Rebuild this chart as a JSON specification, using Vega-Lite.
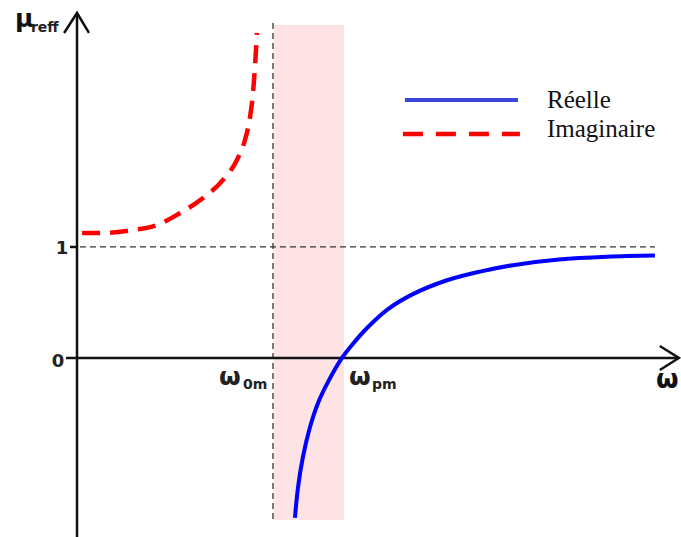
{
  "$schema": "https://vega.github.io/schema/vega-lite/v6.json",
  "width": 681,
  "height": 537,
  "padding": 0,
  "autosize": {"type": "none"},
  "background": "white",
  "config": {"view": {"stroke": null}},
  "datasets": {
    "band": [{"x": 1.005, "x2": 1.362, "y": 3.0, "y2": -1.46}],
    "guides": [
      {"x": 1.0, "x2": 1.0, "y": 3.018, "y2": -1.477},
      {"x": 0.015, "x2": 2.949, "y": 1.0, "y2": 1.0}
    ],
    "axes": [
      {"x": 0, "x2": 0, "y": -1.613, "y2": 3.108},
      {"x": -0.056, "x2": 3.071, "y": 0, "y2": 0},
      {"x": -0.036, "x2": 0, "y": 1, "y2": 1}
    ],
    "arrows": [
      {"a": "y", "x": -0.066, "y": 2.928, "o": 1},
      {"a": "y", "x": 0, "y": 3.108, "o": 2},
      {"a": "y", "x": 0.061, "y": 2.928, "o": 3},
      {"a": "x", "x": 2.974, "y": 0.108, "o": 1},
      {"a": "x", "x": 3.071, "y": 0, "o": 2},
      {"a": "x", "x": 2.974, "y": -0.108, "o": 3}
    ],
    "imag": [
      {"w": 0.026, "mu": 1.126},
      {"w": 0.133, "mu": 1.126},
      {"w": 0.286, "mu": 1.153},
      {"w": 0.408, "mu": 1.198},
      {"w": 0.526, "mu": 1.306},
      {"w": 0.643, "mu": 1.441},
      {"w": 0.745, "mu": 1.604},
      {"w": 0.816, "mu": 1.784},
      {"w": 0.857, "mu": 1.964},
      {"w": 0.883, "mu": 2.171},
      {"w": 0.898, "mu": 2.387},
      {"w": 0.908, "mu": 2.622},
      {"w": 0.918, "mu": 2.928}
    ],
    "real": [
      {"w": 1.112, "mu": -1.441},
      {"w": 1.128, "mu": -1.162},
      {"w": 1.153, "mu": -0.89},
      {"w": 1.189, "mu": -0.622},
      {"w": 1.23, "mu": -0.405},
      {"w": 1.281, "mu": -0.216},
      {"w": 1.352, "mu": 0},
      {"w": 1.403, "mu": 0.117},
      {"w": 1.485, "mu": 0.279},
      {"w": 1.582, "mu": 0.434},
      {"w": 1.714, "mu": 0.575},
      {"w": 1.888, "mu": 0.7},
      {"w": 2.056, "mu": 0.778},
      {"w": 2.224, "mu": 0.836},
      {"w": 2.459, "mu": 0.887},
      {"w": 2.704, "mu": 0.912},
      {"w": 2.949, "mu": 0.922}
    ],
    "legReal": [{"x": 1.673, "x2": 2.25, "y": 2.324, "y2": 2.324}],
    "legImag": [{"x": 1.663, "x2": 2.26, "y": 2.018, "y2": 2.018}],
    "legText": [
      {"x": 2.398, "y": 2.252, "t": "Réelle"},
      {"x": 2.398, "y": 1.991, "t": "Imaginaire"}
    ],
    "bigMu": [{"x": -0.316, "y": 2.982, "t": "μ"}],
    "subs": [
      {"x": -0.235, "y": 2.937, "t": "reff"},
      {"x": 0.847, "y": -0.279, "t": "0m"},
      {"x": 1.505, "y": -0.279, "t": "pm"}
    ],
    "ticks": [
      {"x": -0.097, "y": -0.081, "t": "0"},
      {"x": -0.077, "y": 0.937, "t": "1"}
    ],
    "omegas": [
      {"x": 0.724, "y": -0.243, "t": "ω"},
      {"x": 1.388, "y": -0.243, "t": "ω"}
    ],
    "axisOmega": [{"x": 2.954, "y": -0.27, "t": "ω"}]
  },
  "layer": [
    {
      "data": {"name": "band"},
      "mark": {"type": "rect", "color": "#fde3e3"},
      "encoding": {
        "x": {"field": "x", "type": "quantitative", "scale": {"domain": [-0.393, 3.082], "nice": false, "zero": false}, "axis": null},
        "x2": {"field": "x2"},
        "y": {"field": "y", "type": "quantitative", "scale": {"domain": [-1.613, 3.225], "nice": false, "zero": false}, "axis": null},
        "y2": {"field": "y2"}
      }
    },
    {
      "data": {"name": "guides"},
      "mark": {"type": "rule", "color": "#333333", "strokeWidth": 1.3, "strokeDash": [6, 4]},
      "encoding": {
        "x": {"field": "x", "type": "quantitative"},
        "x2": {"field": "x2"},
        "y": {"field": "y", "type": "quantitative"},
        "y2": {"field": "y2"}
      }
    },
    {
      "data": {"name": "axes"},
      "mark": {"type": "rule", "color": "#111111", "strokeWidth": 2.5},
      "encoding": {
        "x": {"field": "x", "type": "quantitative"},
        "x2": {"field": "x2"},
        "y": {"field": "y", "type": "quantitative"},
        "y2": {"field": "y2"}
      }
    },
    {
      "data": {"name": "arrows"},
      "mark": {"type": "line", "color": "#111111", "strokeWidth": 2.5, "strokeJoin": "miter"},
      "encoding": {
        "x": {"field": "x", "type": "quantitative"},
        "y": {"field": "y", "type": "quantitative"},
        "detail": {"field": "a"},
        "order": {"field": "o"}
      }
    },
    {
      "data": {"name": "imag"},
      "mark": {"type": "line", "color": "#ff0000", "strokeWidth": 4.5, "strokeDash": [18, 10], "interpolate": "monotone"},
      "encoding": {
        "x": {"field": "w", "type": "quantitative"},
        "y": {"field": "mu", "type": "quantitative"}
      }
    },
    {
      "data": {"name": "real"},
      "mark": {"type": "line", "color": "#0000ff", "strokeWidth": 4, "interpolate": "catmull-rom"},
      "encoding": {
        "x": {"field": "w", "type": "quantitative"},
        "y": {"field": "mu", "type": "quantitative"}
      }
    },
    {
      "data": {"name": "legReal"},
      "mark": {"type": "rule", "color": "#3b46d8", "strokeWidth": 4},
      "encoding": {
        "x": {"field": "x", "type": "quantitative"},
        "x2": {"field": "x2"},
        "y": {"field": "y", "type": "quantitative"},
        "y2": {"field": "y2"}
      }
    },
    {
      "data": {"name": "legImag"},
      "mark": {"type": "rule", "color": "#ff0000", "strokeWidth": 4.5, "strokeDash": [20, 13]},
      "encoding": {
        "x": {"field": "x", "type": "quantitative"},
        "x2": {"field": "x2"},
        "y": {"field": "y", "type": "quantitative"},
        "y2": {"field": "y2"}
      }
    },
    {
      "data": {"name": "legText"},
      "mark": {"type": "text", "font": "Liberation Serif", "fontSize": 25, "align": "left", "baseline": "alphabetic", "color": "#111111"},
      "encoding": {
        "x": {"field": "x", "type": "quantitative"},
        "y": {"field": "y", "type": "quantitative"},
        "text": {"field": "t"}
      }
    },
    {
      "data": {"name": "bigMu"},
      "mark": {"type": "text", "font": "DejaVu Sans", "fontWeight": "bold", "fontSize": 25, "align": "left", "baseline": "alphabetic", "color": "#111111"},
      "encoding": {
        "x": {"field": "x", "type": "quantitative"},
        "y": {"field": "y", "type": "quantitative"},
        "text": {"field": "t"}
      }
    },
    {
      "data": {"name": "subs"},
      "mark": {"type": "text", "font": "DejaVu Sans", "fontWeight": "bold", "fontSize": 14, "align": "left", "baseline": "alphabetic", "color": "#222222"},
      "encoding": {
        "x": {"field": "x", "type": "quantitative"},
        "y": {"field": "y", "type": "quantitative"},
        "text": {"field": "t"}
      }
    },
    {
      "data": {"name": "ticks"},
      "mark": {"type": "text", "font": "DejaVu Sans", "fontWeight": "bold", "fontSize": 18, "align": "center", "baseline": "alphabetic", "color": "#222222"},
      "encoding": {
        "x": {"field": "x", "type": "quantitative"},
        "y": {"field": "y", "type": "quantitative"},
        "text": {"field": "t"}
      }
    },
    {
      "data": {"name": "omegas"},
      "mark": {"type": "text", "font": "DejaVu Sans", "fontWeight": "bold", "fontSize": 25, "align": "left", "baseline": "alphabetic", "color": "#222222"},
      "encoding": {
        "x": {"field": "x", "type": "quantitative"},
        "y": {"field": "y", "type": "quantitative"},
        "text": {"field": "t"}
      }
    },
    {
      "data": {"name": "axisOmega"},
      "mark": {"type": "text", "font": "DejaVu Sans", "fontWeight": "bold", "fontSize": 26, "align": "left", "baseline": "alphabetic", "color": "#111111"},
      "encoding": {
        "x": {"field": "x", "type": "quantitative"},
        "y": {"field": "y", "type": "quantitative"},
        "text": {"field": "t"}
      }
    }
  ]
}
